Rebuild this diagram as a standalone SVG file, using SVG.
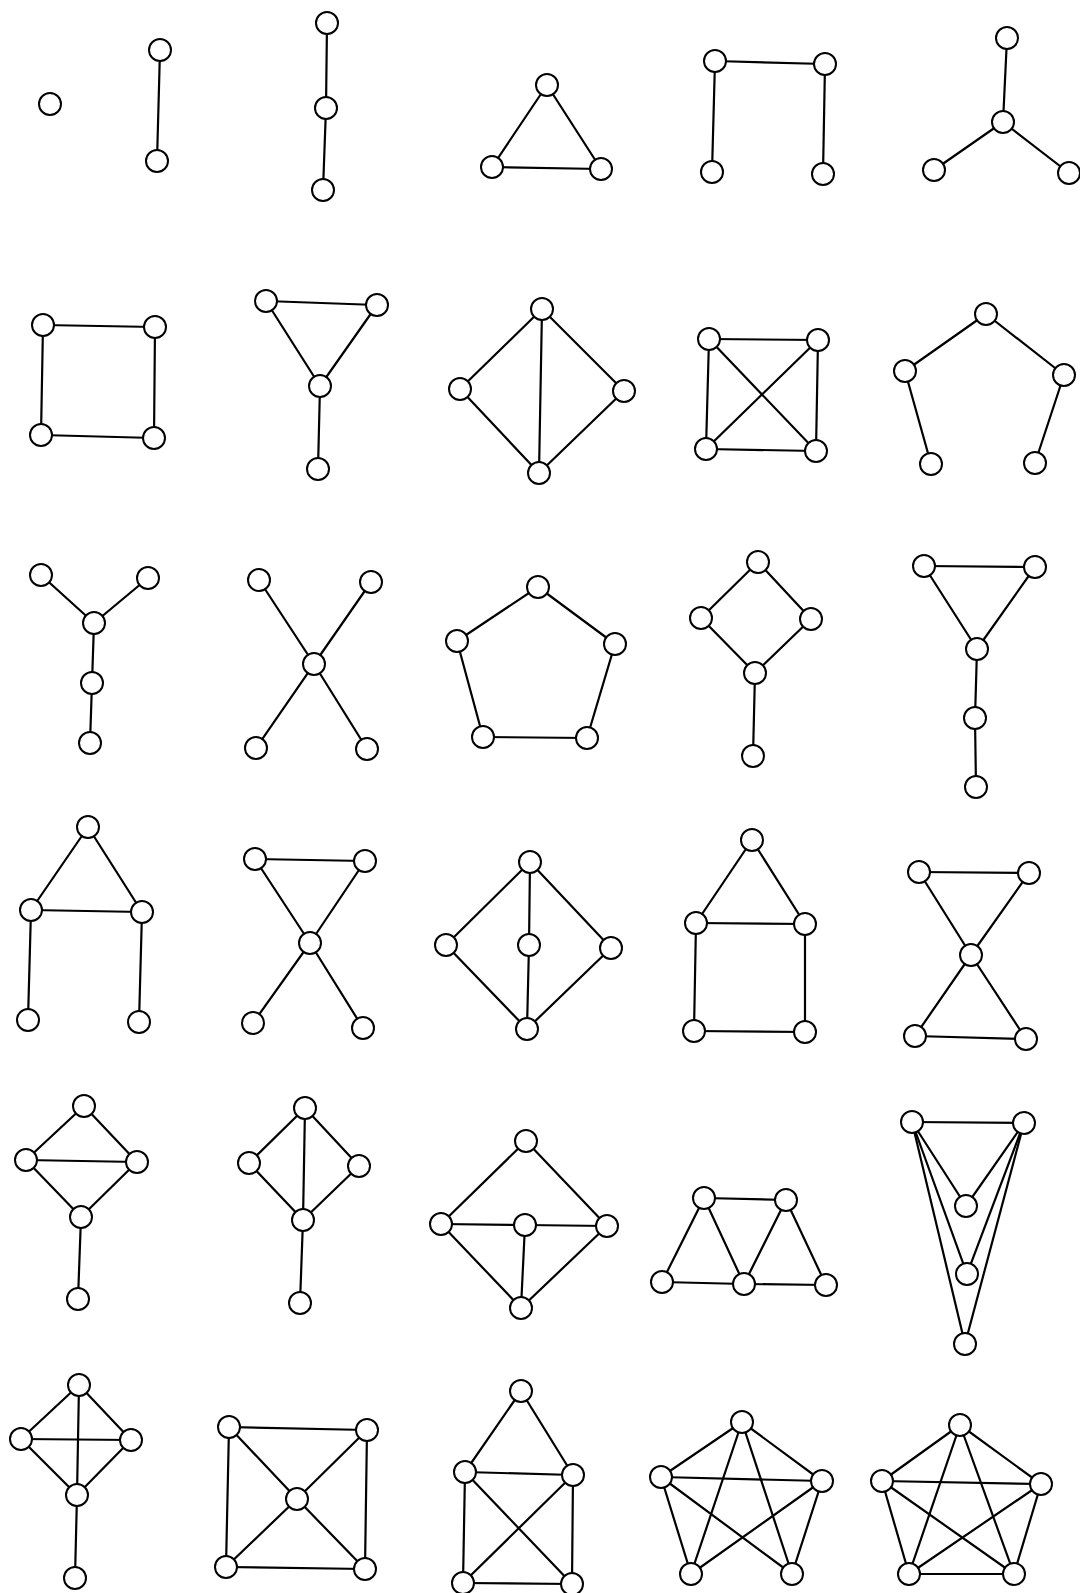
<svg xmlns="http://www.w3.org/2000/svg" width="1080" height="1593" viewBox="0 0 1080 1593">
<style>
.e line{stroke:#000;stroke-width:2.2;stroke-linecap:round}
circle{fill:#fff;stroke:#000;stroke-width:2}
</style>
<rect width="1080" height="1593" fill="#fff"/>
<g class="e" id="connectors">
<line x1="160" y1="50" x2="157" y2="161"/>
<line x1="327" y1="23" x2="326" y2="108"/><line x1="326" y1="108" x2="323" y2="190"/>
<line x1="547" y1="85" x2="492" y2="167"/><line x1="492" y1="167" x2="601" y2="169"/><line x1="601" y1="169" x2="547" y2="85"/>
<line x1="715" y1="61" x2="825" y2="64"/><line x1="715" y1="61" x2="712" y2="172"/><line x1="825" y1="64" x2="823" y2="174"/>
<line x1="1007" y1="38" x2="1003" y2="122"/><line x1="1003" y1="122" x2="934" y2="170"/><line x1="1003" y1="122" x2="1069" y2="173"/>
<line x1="43" y1="325" x2="155" y2="327"/><line x1="43" y1="325" x2="41" y2="435"/><line x1="155" y1="327" x2="154" y2="438"/><line x1="41" y1="435" x2="154" y2="438"/>
<line x1="266" y1="301" x2="377" y2="305"/><line x1="266" y1="301" x2="320" y2="386"/><line x1="377" y1="305" x2="320" y2="386"/><line x1="320" y1="386" x2="318" y2="469"/>
<line x1="542" y1="309" x2="460" y2="389"/><line x1="542" y1="309" x2="624" y2="391"/><line x1="460" y1="389" x2="539" y2="473"/><line x1="624" y1="391" x2="539" y2="473"/><line x1="542" y1="309" x2="539" y2="473"/>
<line x1="709" y1="339" x2="818" y2="340"/><line x1="706" y1="449" x2="816" y2="451"/><line x1="709" y1="339" x2="706" y2="449"/><line x1="818" y1="340" x2="816" y2="451"/><line x1="709" y1="339" x2="816" y2="451"/><line x1="818" y1="340" x2="706" y2="449"/>
<line x1="986" y1="314" x2="905" y2="371"/><line x1="986" y1="314" x2="1064" y2="375"/><line x1="905" y1="371" x2="931" y2="464"/><line x1="1064" y1="375" x2="1035" y2="463"/>
<line x1="41" y1="575" x2="94" y2="623"/><line x1="148" y1="578" x2="94" y2="623"/><line x1="94" y1="623" x2="92" y2="683"/><line x1="92" y1="683" x2="90" y2="743"/>
<line x1="259" y1="580" x2="314" y2="664"/><line x1="371" y1="582" x2="314" y2="664"/><line x1="314" y1="664" x2="256" y2="748"/><line x1="314" y1="664" x2="367" y2="749"/>
<line x1="538" y1="587" x2="457" y2="641"/><line x1="538" y1="587" x2="615" y2="644"/><line x1="457" y1="641" x2="483" y2="737"/><line x1="615" y1="644" x2="587" y2="738"/><line x1="483" y1="737" x2="587" y2="738"/>
<line x1="758" y1="562" x2="701" y2="618"/><line x1="758" y1="562" x2="811" y2="619"/><line x1="701" y1="618" x2="755" y2="673"/><line x1="811" y1="619" x2="755" y2="673"/><line x1="755" y1="673" x2="753" y2="756"/>
<line x1="924" y1="566" x2="1035" y2="567"/><line x1="924" y1="566" x2="977" y2="649"/><line x1="1035" y1="567" x2="977" y2="649"/><line x1="977" y1="649" x2="975" y2="718"/><line x1="975" y1="718" x2="976" y2="787"/>
<line x1="88" y1="827" x2="31" y2="910"/><line x1="88" y1="827" x2="142" y2="912"/><line x1="31" y1="910" x2="142" y2="912"/><line x1="31" y1="910" x2="28" y2="1020"/><line x1="142" y1="912" x2="139" y2="1022"/>
<line x1="255" y1="859" x2="365" y2="861"/><line x1="255" y1="859" x2="310" y2="943"/><line x1="365" y1="861" x2="310" y2="943"/><line x1="310" y1="943" x2="253" y2="1023"/><line x1="310" y1="943" x2="363" y2="1028"/>
<line x1="530" y1="862" x2="446" y2="945"/><line x1="530" y1="862" x2="611" y2="948"/><line x1="446" y1="945" x2="527" y2="1029"/><line x1="611" y1="948" x2="527" y2="1029"/><line x1="530" y1="862" x2="529" y2="945"/><line x1="529" y1="945" x2="527" y2="1029"/>
<line x1="752" y1="840" x2="696" y2="923"/><line x1="752" y1="840" x2="805" y2="924"/><line x1="696" y1="923" x2="805" y2="924"/><line x1="696" y1="923" x2="694" y2="1031"/><line x1="805" y1="924" x2="805" y2="1032"/><line x1="694" y1="1031" x2="805" y2="1032"/>
<line x1="919" y1="872" x2="1029" y2="873"/><line x1="919" y1="872" x2="971" y2="955"/><line x1="1029" y1="873" x2="971" y2="955"/><line x1="971" y1="955" x2="915" y2="1036"/><line x1="971" y1="955" x2="1026" y2="1039"/><line x1="915" y1="1036" x2="1026" y2="1039"/>
<line x1="84" y1="1106" x2="26" y2="1160"/><line x1="84" y1="1106" x2="137" y2="1162"/><line x1="26" y1="1160" x2="137" y2="1162"/><line x1="26" y1="1160" x2="81" y2="1217"/><line x1="137" y1="1162" x2="81" y2="1217"/><line x1="81" y1="1217" x2="78" y2="1299"/>
<line x1="305" y1="1108" x2="249" y2="1163"/><line x1="305" y1="1108" x2="359" y2="1166"/><line x1="249" y1="1163" x2="303" y2="1220"/><line x1="359" y1="1166" x2="303" y2="1220"/><line x1="305" y1="1108" x2="303" y2="1220"/><line x1="303" y1="1220" x2="300" y2="1303"/>
<line x1="526" y1="1141" x2="441" y2="1224"/><line x1="526" y1="1141" x2="607" y2="1226"/><line x1="441" y1="1224" x2="521" y2="1308"/><line x1="607" y1="1226" x2="521" y2="1308"/><line x1="441" y1="1224" x2="525" y2="1225"/><line x1="525" y1="1225" x2="607" y2="1226"/><line x1="525" y1="1225" x2="521" y2="1308"/>
<line x1="704" y1="1198" x2="786" y2="1200"/><line x1="704" y1="1198" x2="662" y2="1282"/><line x1="704" y1="1198" x2="744" y2="1284"/><line x1="786" y1="1200" x2="744" y2="1284"/><line x1="786" y1="1200" x2="826" y2="1285"/><line x1="662" y1="1282" x2="744" y2="1284"/><line x1="744" y1="1284" x2="826" y2="1285"/>
<line x1="912" y1="1122" x2="1024" y2="1123"/><line x1="912" y1="1122" x2="966" y2="1206"/><line x1="1024" y1="1123" x2="966" y2="1206"/><line x1="912" y1="1122" x2="967" y2="1274"/><line x1="1024" y1="1123" x2="967" y2="1274"/><line x1="912" y1="1122" x2="965" y2="1344"/><line x1="1024" y1="1123" x2="965" y2="1344"/>
<line x1="79" y1="1385" x2="21" y2="1439"/><line x1="79" y1="1385" x2="131" y2="1440"/><line x1="21" y1="1439" x2="131" y2="1440"/><line x1="21" y1="1439" x2="77" y2="1495"/><line x1="131" y1="1440" x2="77" y2="1495"/><line x1="79" y1="1385" x2="77" y2="1495"/><line x1="77" y1="1495" x2="75" y2="1578"/>
<line x1="229" y1="1427" x2="367" y2="1430"/><line x1="226" y1="1567" x2="365" y2="1569"/><line x1="229" y1="1427" x2="226" y2="1567"/><line x1="367" y1="1430" x2="365" y2="1569"/><line x1="229" y1="1427" x2="297" y2="1499"/><line x1="367" y1="1430" x2="297" y2="1499"/><line x1="297" y1="1499" x2="226" y2="1567"/><line x1="297" y1="1499" x2="365" y2="1569"/>
<line x1="521" y1="1391" x2="465" y2="1472"/><line x1="521" y1="1391" x2="573" y2="1475"/><line x1="465" y1="1472" x2="573" y2="1475"/><line x1="465" y1="1472" x2="463" y2="1583"/><line x1="573" y1="1475" x2="572" y2="1584"/><line x1="463" y1="1583" x2="572" y2="1584"/><line x1="465" y1="1472" x2="572" y2="1584"/><line x1="573" y1="1475" x2="463" y2="1583"/>
<line x1="742" y1="1422" x2="661" y2="1477"/><line x1="742" y1="1422" x2="822" y2="1481"/><line x1="661" y1="1477" x2="822" y2="1481"/><line x1="742" y1="1422" x2="691" y2="1574"/><line x1="742" y1="1422" x2="792" y2="1574"/><line x1="661" y1="1477" x2="792" y2="1574"/><line x1="822" y1="1481" x2="691" y2="1574"/><line x1="661" y1="1477" x2="691" y2="1574"/><line x1="822" y1="1481" x2="792" y2="1574"/>
<line x1="960" y1="1425" x2="882" y2="1481"/><line x1="960" y1="1425" x2="1041" y2="1484"/><line x1="882" y1="1481" x2="1041" y2="1484"/><line x1="960" y1="1425" x2="909" y2="1574"/><line x1="960" y1="1425" x2="1014" y2="1574"/><line x1="882" y1="1481" x2="1014" y2="1574"/><line x1="1041" y1="1484" x2="909" y2="1574"/><line x1="882" y1="1481" x2="909" y2="1574"/><line x1="1041" y1="1484" x2="1014" y2="1574"/><line x1="909" y1="1574" x2="1014" y2="1574"/>
</g>
<g id="nodes">
<g id="g1a"><circle cx="50" cy="104" r="11"/></g>
<g id="g2a"><circle cx="160" cy="50" r="11"/></g><g id="g2b"><circle cx="157" cy="161" r="11"/></g>
<g id="g3a"><circle cx="327" cy="23" r="11"/></g><g id="g3b"><circle cx="326" cy="108" r="11"/></g><g id="g3c"><circle cx="323" cy="190" r="11"/></g>
<g id="g4a"><circle cx="547" cy="85" r="11"/></g><g id="g4b"><circle cx="492" cy="167" r="11"/></g><g id="g4c"><circle cx="601" cy="169" r="11"/></g>
<g id="g5a"><circle cx="715" cy="61" r="11"/></g><g id="g5b"><circle cx="825" cy="64" r="11"/></g><g id="g5c"><circle cx="712" cy="172" r="11"/></g><g id="g5d"><circle cx="823" cy="174" r="11"/></g>
<g id="g6a"><circle cx="1007" cy="38" r="11"/></g><g id="g6b"><circle cx="1003" cy="122" r="11"/></g><g id="g6c"><circle cx="934" cy="170" r="11"/></g><g id="g6d"><circle cx="1069" cy="173" r="11"/></g>
<g id="g7a"><circle cx="43" cy="325" r="11"/></g><g id="g7b"><circle cx="155" cy="327" r="11"/></g><g id="g7c"><circle cx="41" cy="435" r="11"/></g><g id="g7d"><circle cx="154" cy="438" r="11"/></g>
<g id="g8a"><circle cx="266" cy="301" r="11"/></g><g id="g8b"><circle cx="377" cy="305" r="11"/></g><g id="g8c"><circle cx="320" cy="386" r="11"/></g><g id="g8d"><circle cx="318" cy="469" r="11"/></g>
<g id="g9a"><circle cx="542" cy="309" r="11"/></g><g id="g9b"><circle cx="460" cy="389" r="11"/></g><g id="g9c"><circle cx="624" cy="391" r="11"/></g><g id="g9d"><circle cx="539" cy="473" r="11"/></g>
<g id="g10a"><circle cx="709" cy="339" r="11"/></g><g id="g10b"><circle cx="818" cy="340" r="11"/></g><g id="g10c"><circle cx="706" cy="449" r="11"/></g><g id="g10d"><circle cx="816" cy="451" r="11"/></g>
<g id="g11a"><circle cx="986" cy="314" r="11"/></g><g id="g11b"><circle cx="905" cy="371" r="11"/></g><g id="g11c"><circle cx="1064" cy="375" r="11"/></g><g id="g11d"><circle cx="931" cy="464" r="11"/></g><g id="g11e"><circle cx="1035" cy="463" r="11"/></g>
<g id="g12a"><circle cx="41" cy="575" r="11"/></g><g id="g12b"><circle cx="148" cy="578" r="11"/></g><g id="g12c"><circle cx="94" cy="623" r="11"/></g><g id="g12d"><circle cx="92" cy="683" r="11"/></g><g id="g12e"><circle cx="90" cy="743" r="11"/></g>
<g id="g13a"><circle cx="259" cy="580" r="11"/></g><g id="g13b"><circle cx="371" cy="582" r="11"/></g><g id="g13c"><circle cx="314" cy="664" r="11"/></g><g id="g13d"><circle cx="256" cy="748" r="11"/></g><g id="g13e"><circle cx="367" cy="749" r="11"/></g>
<g id="g14a"><circle cx="538" cy="587" r="11"/></g><g id="g14b"><circle cx="457" cy="641" r="11"/></g><g id="g14c"><circle cx="615" cy="644" r="11"/></g><g id="g14d"><circle cx="483" cy="737" r="11"/></g><g id="g14e"><circle cx="587" cy="738" r="11"/></g>
<g id="g15a"><circle cx="758" cy="562" r="11"/></g><g id="g15b"><circle cx="701" cy="618" r="11"/></g><g id="g15c"><circle cx="811" cy="619" r="11"/></g><g id="g15d"><circle cx="755" cy="673" r="11"/></g><g id="g15e"><circle cx="753" cy="756" r="11"/></g>
<g id="g16a"><circle cx="924" cy="566" r="11"/></g><g id="g16b"><circle cx="1035" cy="567" r="11"/></g><g id="g16c"><circle cx="977" cy="649" r="11"/></g><g id="g16d"><circle cx="975" cy="718" r="11"/></g><g id="g16e"><circle cx="976" cy="787" r="11"/></g>
<g id="g17a"><circle cx="88" cy="827" r="11"/></g><g id="g17b"><circle cx="31" cy="910" r="11"/></g><g id="g17c"><circle cx="142" cy="912" r="11"/></g><g id="g17d"><circle cx="28" cy="1020" r="11"/></g><g id="g17e"><circle cx="139" cy="1022" r="11"/></g>
<g id="g18a"><circle cx="255" cy="859" r="11"/></g><g id="g18b"><circle cx="365" cy="861" r="11"/></g><g id="g18c"><circle cx="310" cy="943" r="11"/></g><g id="g18d"><circle cx="253" cy="1023" r="11"/></g><g id="g18e"><circle cx="363" cy="1028" r="11"/></g>
<g id="g19a"><circle cx="530" cy="862" r="11"/></g><g id="g19b"><circle cx="446" cy="945" r="11"/></g><g id="g19c"><circle cx="529" cy="945" r="11"/></g><g id="g19d"><circle cx="611" cy="948" r="11"/></g><g id="g19e"><circle cx="527" cy="1029" r="11"/></g>
<g id="g20a"><circle cx="752" cy="840" r="11"/></g><g id="g20b"><circle cx="696" cy="923" r="11"/></g><g id="g20c"><circle cx="805" cy="924" r="11"/></g><g id="g20d"><circle cx="694" cy="1031" r="11"/></g><g id="g20e"><circle cx="805" cy="1032" r="11"/></g>
<g id="g21a"><circle cx="919" cy="872" r="11"/></g><g id="g21b"><circle cx="1029" cy="873" r="11"/></g><g id="g21c"><circle cx="971" cy="955" r="11"/></g><g id="g21d"><circle cx="915" cy="1036" r="11"/></g><g id="g21e"><circle cx="1026" cy="1039" r="11"/></g>
<g id="g22a"><circle cx="84" cy="1106" r="11"/></g><g id="g22b"><circle cx="26" cy="1160" r="11"/></g><g id="g22c"><circle cx="137" cy="1162" r="11"/></g><g id="g22d"><circle cx="81" cy="1217" r="11"/></g><g id="g22e"><circle cx="78" cy="1299" r="11"/></g>
<g id="g23a"><circle cx="305" cy="1108" r="11"/></g><g id="g23b"><circle cx="249" cy="1163" r="11"/></g><g id="g23c"><circle cx="359" cy="1166" r="11"/></g><g id="g23d"><circle cx="303" cy="1220" r="11"/></g><g id="g23e"><circle cx="300" cy="1303" r="11"/></g>
<g id="g24a"><circle cx="526" cy="1141" r="11"/></g><g id="g24b"><circle cx="441" cy="1224" r="11"/></g><g id="g24c"><circle cx="525" cy="1225" r="11"/></g><g id="g24d"><circle cx="607" cy="1226" r="11"/></g><g id="g24e"><circle cx="521" cy="1308" r="11"/></g>
<g id="g25a"><circle cx="704" cy="1198" r="11"/></g><g id="g25b"><circle cx="786" cy="1200" r="11"/></g><g id="g25c"><circle cx="662" cy="1282" r="11"/></g><g id="g25d"><circle cx="744" cy="1284" r="11"/></g><g id="g25e"><circle cx="826" cy="1285" r="11"/></g>
<g id="g26a"><circle cx="912" cy="1122" r="11"/></g><g id="g26b"><circle cx="1024" cy="1123" r="11"/></g><g id="g26c"><circle cx="966" cy="1206" r="11"/></g><g id="g26d"><circle cx="967" cy="1274" r="11"/></g><g id="g26e"><circle cx="965" cy="1344" r="11"/></g>
<g id="g27a"><circle cx="79" cy="1385" r="11"/></g><g id="g27b"><circle cx="21" cy="1439" r="11"/></g><g id="g27c"><circle cx="131" cy="1440" r="11"/></g><g id="g27d"><circle cx="77" cy="1495" r="11"/></g><g id="g27e"><circle cx="75" cy="1578" r="11"/></g>
<g id="g28a"><circle cx="229" cy="1427" r="11"/></g><g id="g28b"><circle cx="367" cy="1430" r="11"/></g><g id="g28c"><circle cx="297" cy="1499" r="11"/></g><g id="g28d"><circle cx="226" cy="1567" r="11"/></g><g id="g28e"><circle cx="365" cy="1569" r="11"/></g>
<g id="g29a"><circle cx="521" cy="1391" r="11"/></g><g id="g29b"><circle cx="465" cy="1472" r="11"/></g><g id="g29c"><circle cx="573" cy="1475" r="11"/></g><g id="g29d"><circle cx="463" cy="1583" r="11"/></g><g id="g29e"><circle cx="572" cy="1584" r="11"/></g>
<g id="g30a"><circle cx="742" cy="1422" r="11"/></g><g id="g30b"><circle cx="661" cy="1477" r="11"/></g><g id="g30c"><circle cx="822" cy="1481" r="11"/></g><g id="g30d"><circle cx="691" cy="1574" r="11"/></g><g id="g30e"><circle cx="792" cy="1574" r="11"/></g>
<g id="g31a"><circle cx="960" cy="1425" r="11"/></g><g id="g31b"><circle cx="882" cy="1481" r="11"/></g><g id="g31c"><circle cx="1041" cy="1484" r="11"/></g><g id="g31d"><circle cx="909" cy="1574" r="11"/></g><g id="g31e"><circle cx="1014" cy="1574" r="11"/></g>
</g>
</svg>
